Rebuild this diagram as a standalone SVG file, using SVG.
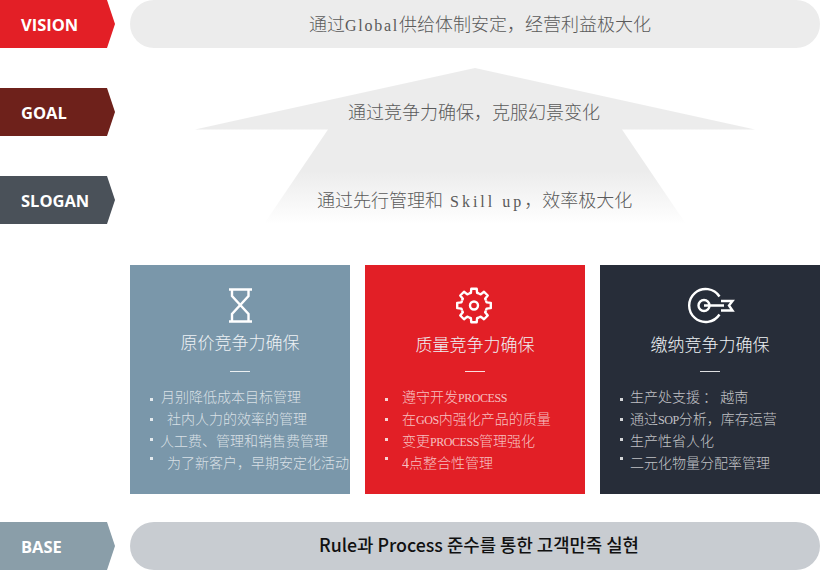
<svg xmlns="http://www.w3.org/2000/svg" width="820" height="570" viewBox="0 0 820 570">
<style>
text{white-space:pre;font-family:"Noto Sans CJK SC","Noto Sans",sans-serif}
.tag{font-family:"Open Sans","Noto Sans",sans-serif;font-weight:700;font-size:16.500px;fill:#fff}
.main{font-size:18px;fill:#5a5a5a;font-weight:300}
.m{font-family:"Liberation Serif",serif;font-size:16px}
.title{font-size:17px;fill:#eef2f5;font-weight:300;text-anchor:middle}
.li{font-size:14px;fill:#fff;fill-opacity:.72;font-weight:300}
.li tspan{font-family:"Liberation Serif",serif;font-size:12px;letter-spacing:-.45px}
.li tspan.d{font-size:14px;letter-spacing:0}
.b{fill:#fff;fill-opacity:.8}
.hr{stroke:#fff;stroke-opacity:.85;stroke-width:1}
.ic{fill:none;stroke:#fff;stroke-width:2.400}
</style>
<defs>
<linearGradient id="fade" gradientUnits="userSpaceOnUse" x1="0" y1="68" x2="0" y2="224">
<stop offset="0" stop-color="#ececec"/><stop offset=".66" stop-color="#ececec"/><stop offset="1" stop-color="#fff"/>
</linearGradient>
<polygon id="tagshape" points="0,0 107,0 115,24 107,48 0,48"/>
<path id="tooth" class="ic" stroke-linejoin="round" d="M-4.970 -12.010L-3.140 -12.610L-2.660 -16.790L2.660 -16.790L3.140 -12.610L4.970 -12.010"/>
</defs>
<g id="connectors"/>
<g id="vision">
<use href="#tagshape" fill="#e31f26"/>
<text class="tag" x="21" y="31">VISION</text>
<rect x="130" y="0" width="690" height="48" rx="24" fill="#ececec"/>
<text class="main" x="309" y="31">通过<tspan class="m" letter-spacing="1.750">Global</tspan>供给体制安定，经营利益极大化</text>
</g>
<g id="goal">
<use href="#tagshape" y="88" fill="#6e211b"/>
<text class="tag" x="21" y="119">GOAL</text>
<polygon points="475,68 755,129.500 622,129.500 686,224 264,224 328,129.500 195,129.500" fill="url(#fade)"/>
<text class="main" x="348" y="119">通过竞争力确保，克服幻景变化</text>
</g>
<g id="slogan">
<use href="#tagshape" y="176" fill="#4a5159"/>
<text class="tag" x="21" y="207">SLOGAN</text>
<text class="main" x="317" y="207">通过先行管理和<tspan class="m" letter-spacing="3"> Skill up</tspan>，效率极大化</text>
</g>
<g id="card-cost">
<rect x="130" y="265" width="220" height="229" fill="#7a97aa"/>
<path class="ic" d="M229 289.500H252M229 321.500H252M232 289.500V296L248.500 314V321.500M248.500 289.500V296L232 314V321.500"/>
<text class="title" x="240" y="349">原价竞争力确保</text>
<line class="hr" x1="230" y1="371.500" x2="250" y2="371.500"/>
<rect class="b" x="150" y="398" width="3" height="3"/><rect class="b" x="150" y="418" width="3" height="3"/><rect class="b" x="150" y="438" width="3" height="3"/><rect class="b" x="150" y="457" width="3" height="3"/>
<text class="li" x="161" y="402">月别降低成本目标管理</text>
<text class="li" x="167" y="424">社内人力的效率的管理</text>
<text class="li" x="160" y="446">人工费、管理和销售费管理</text>
<text class="li" x="167" y="468">为了新客户，早期安定化活动</text>
</g>
<g id="card-quality">
<rect x="365" y="265" width="220" height="229" fill="#e21f26"/>
<g transform="translate(474 305.500)">
<use href="#tooth"/><use href="#tooth" transform="rotate(45)"/><use href="#tooth" transform="rotate(90)"/><use href="#tooth" transform="rotate(135)"/><use href="#tooth" transform="rotate(180)"/><use href="#tooth" transform="rotate(225)"/><use href="#tooth" transform="rotate(270)"/><use href="#tooth" transform="rotate(315)"/>
<circle class="ic" r="4"/>
</g>
<text class="title" x="475" y="351">质量竞争力确保</text>
<line class="hr" x1="465" y1="371.500" x2="485" y2="371.500"/>
<rect class="b" x="385" y="398" width="3" height="3"/><rect class="b" x="385" y="418" width="3" height="3"/><rect class="b" x="385" y="438" width="3" height="3"/><rect class="b" x="385" y="457" width="3" height="3"/>
<text class="li" x="402" y="402">遵守开发<tspan>PROCESS</tspan></text>
<text class="li" x="402" y="424">在<tspan>GOS</tspan>内强化产品的质量</text>
<text class="li" x="402" y="446">变更<tspan>PROCESS</tspan>管理强化</text>
<text class="li" x="402" y="468"><tspan class="d">4</tspan>点整合性管理</text>
</g>
<g id="card-delivery">
<rect x="600" y="265" width="220" height="229" fill="#272d39"/>
<path class="ic" d="M719.500 296.500A16.500 16.500 0 1 0 719.500 314.500"/>
<circle class="ic" cx="704" cy="305.500" r="5.500"/>
<path class="ic" stroke-linejoin="miter" d="M704 305.500H724M721 301H732.500L729 305.500L732.500 310.500H721"/>
<text class="title" x="710" y="351">缴纳竞争力确保</text>
<line class="hr" x1="700" y1="371.500" x2="720" y2="371.500"/>
<rect class="b" x="620" y="398" width="3" height="3"/><rect class="b" x="620" y="418" width="3" height="3"/><rect class="b" x="620" y="438" width="3" height="3"/><rect class="b" x="620" y="457" width="3" height="3"/>
<text class="li" x="630" y="402">生产处支援 ： 越南</text>
<text class="li" x="630" y="424">通过<tspan>SOP</tspan>分析，库存运营</text>
<text class="li" x="630" y="446">生产性省人化</text>
<text class="li" x="630" y="468">二元化物量分配率管理</text>
</g>
<g id="base">
<use href="#tagshape" y="522" fill="#8a9ea9"/>
<text class="tag" x="21" y="553">BASE</text>
<rect x="130" y="522" width="690" height="48" rx="24" fill="#c8ccd1"/>
<text x="319" y="552" textLength="320" lengthAdjust="spacingAndGlyphs" style="font-family:'Noto Sans CJK KR','Noto Sans',sans-serif;font-size:18px;fill:#111;font-weight:500">Rule과 Process 준수를 통한 고객만족 실현</text>
</g>
</svg>
